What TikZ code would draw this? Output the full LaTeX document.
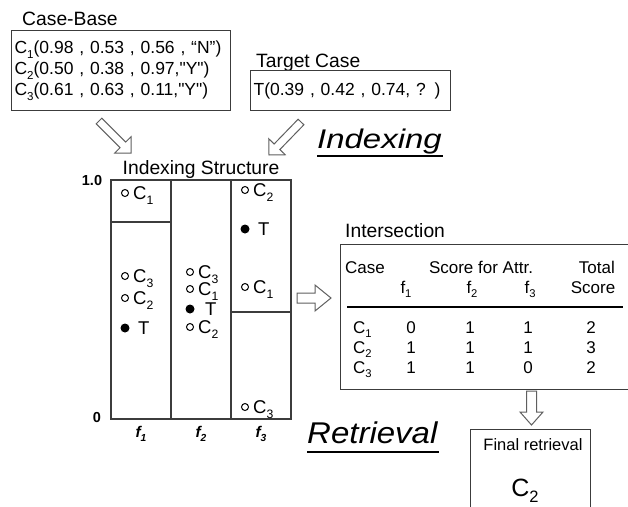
\documentclass[tikz,border=0pt]{standalone}
\usepackage{fontspec}
\setmainfont{Liberation Sans}[Ligatures=TeXOff]
\usetikzlibrary{calc}
\definecolor{ln}{RGB}{60,60,60}
\definecolor{ar}{RGB}{95,95,95}
\newcommand{\fs}[2][]{\fontsize{#2}{#2}\selectfont}
\newcommand{\lsub}[1]{\raisebox{-0.27em}{\scalebox{0.66}{#1}}}
\newcommand{\hollowarr}[5]{%
  \coordinate (hb) at ($(#2)!#3!(#1)$);
  \draw[harr] ($(#1)!#4!90:(#2)$) -- ($(hb)!#4!-90:(#1)$) -- ($(hb)!#5!-90:(#1)$) -- (#2)
    -- ($(hb)!#5!90:(#1)$) -- ($(hb)!#4!90:(#1)$) -- ($(#1)!#4!-90:(#2)$) -- cycle;}
\begin{document}
\begin{tikzpicture}[x=1pt,y=-1pt,
  lbl/.style={inner sep=0pt, font=\fs{19.3}},
  tb/.style={inner sep=0pt, font=\fs{17}},
  box/.style={draw=ln, line width=1.2pt},
  grd/.style={draw=ln, line width=1.4pt},
  pt/.style={circle, draw=black, line width=1pt, inner sep=0pt, minimum size=7pt},
  tpt/.style={circle, fill=black, inner sep=0pt, minimum size=9pt},
  ptl/.style={inner sep=0pt, font=\fs{18.5}, anchor=base west},
  harr/.style={draw=ar, line width=1pt, fill=white},
  big/.style={inner sep=0pt, anchor=base west, font=\fs{27}\itshape},
  axl/.style={inner sep=0pt, anchor=base, font=\fs{14.5}\bfseries},
  fl/.style={inner sep=0pt, anchor=base, font=\fs{15.5}\bfseries\itshape}
]
\useasboundingbox (0,0) rectangle (628,506);

% Case-Base
\node[lbl, anchor=base west] (cbl) at (22,25) {Case-Base};
\node[box, anchor=north west, text width=213pt, inner xsep=3pt, inner ysep=0pt,
      minimum height=80pt, align=left, font=\fontsize{17.5}{21}\selectfont] (cb) at (11,30)
  {C\lsub{1}(0.98 , 0.53 , 0.56 , “N”)\\C\lsub{2}(0.50 , 0.38 , 0.97,"Y")\\C\lsub{3}(0.61 , 0.63 , 0.11,"Y")};

% Target Case
\node[lbl, anchor=base west] (tcl) at (256,67) {Target Case};
\node[box, anchor=north west, text width=194pt, inner xsep=3pt, inner ysep=0pt,
      minimum height=40pt, align=left, font=\fs{17.5}] (tc) at (250,70) {T(0.39 , 0.42 , 0.74, ? )};

% indexing arrows
\coordinate (a1t) at (99,121); \coordinate (a1h) at (131,153);
\coordinate (a2t) at (301,122); \coordinate (a2h) at (269,155);
\hollowarr{a1t}{a1h}{11.5pt}{4pt}{11.5pt}
\hollowarr{a2t}{a2h}{11.5pt}{4pt}{11.5pt}

% Indexing label
\node[big] (idx) at (317,148) {\scalebox{1.22}[1]{Indexing}};
\draw[line width=1.8pt] (317,156) -- (443,156);

% Indexing structure
\node[lbl, anchor=base] (iss) at (201,174) {Indexing Structure};
\node[axl] (one) at (92,185) {1.0};
\node[axl] (zero) at (97,422) {0};
\draw[grd] (111,180) rectangle (291,419);
\draw[grd] (171,180) -- (171,419);
\draw[grd] (231,180) -- (231,419);
\draw[grd] (111,222) -- (171,222);
\draw[grd] (231,312) -- (291,312);
\node[fl] (f1) at (141,437) {f\lsub{1}};
\node[fl] (f2) at (201,437) {f\lsub{2}};
\node[fl] (f3) at (261,437) {f\lsub{3}};

% column 1
\node[pt] (p11) at (125,193) {}; \node[ptl] (l11) at ($(p11)+(8,6.5)$) {C\lsub{1}};
\node[pt] (p13) at (125,276) {}; \node[ptl] (l13) at ($(p13)+(8,6.5)$) {C\lsub{3}};
\node[pt] (p12) at (125,298) {}; \node[ptl] (l12) at ($(p12)+(8,6.5)$) {C\lsub{2}};
\node[tpt] (p1t) at (125,328) {}; \node[ptl] (l1t) at ($(p1t)+(13,6.5)$) {T};
% column 2
\node[pt] (p23) at (190,272) {}; \node[ptl] (l23) at ($(p23)+(8,6.5)$) {C\lsub{3}};
\node[pt] (p21) at (190,289) {}; \node[ptl] (l21) at ($(p21)+(8,6.5)$) {C\lsub{1}};
\node[tpt] (p2t) at (190,309) {}; \node[ptl] (l2t) at ($(p2t)+(15,6.5)$) {T};
\node[pt] (p22) at (190,327) {}; \node[ptl] (l22) at ($(p22)+(8,6.5)$) {C\lsub{2}};
% column 3
\node[pt] (p32) at (245,190) {}; \node[ptl] (l32) at ($(p32)+(8,6.5)$) {C\lsub{2}};
\node[tpt] (p3t) at (245,229) {}; \node[ptl] (l3t) at ($(p3t)+(13,6.5)$) {T};
\node[pt] (p31) at (245,287) {}; \node[ptl] (l31) at ($(p31)+(8,6.5)$) {C\lsub{1}};
\node[pt] (p33) at (245,407) {}; \node[ptl] (l33) at ($(p33)+(8,6.5)$) {C\lsub{3}};

% arrow to intersection
\coordinate (a3t) at (297,298); \coordinate (a3h) at (331,298);
\hollowarr{a3t}{a3h}{16pt}{5pt}{13pt}

% Intersection
\node[lbl, anchor=base west] (isl) at (345,237) {Intersection};
\node[box, anchor=north west, minimum width=300pt, minimum height=145pt, inner sep=0pt] (isx) at (340,244) {};
\node[tb, anchor=base west] (hcase) at (345,273) {Case};
\node[tb, anchor=base] (hscore) at (481,273) {Score for Attr.};
\node[tb, anchor=base east] (htotal) at (615,273) {Total};
\node[tb, anchor=base] (hf1) at (406,293) {f\lsub{1}};
\node[tb, anchor=base] (hf2) at (472,293) {f\lsub{2}};
\node[tb, anchor=base] (hf3) at (530,293) {f\lsub{3}};
\node[tb, anchor=base] (hts) at (593,293) {Score};
\draw[line width=1.2pt] (347,307) -- (623,307);
\foreach \r/\y/\a/\b/\c/\t in {1/333/0/1/1/2, 2/353/1/1/1/3, 3/373/1/1/0/2}{
  \node[tb, anchor=base west] (rc\r) at (353,\y) {C\lsub{\r}};
  \node[tb, anchor=base] (ra\r) at (411,\y) {\a};
  \node[tb, anchor=base] (rb\r) at (470,\y) {\b};
  \node[tb, anchor=base] (rd\r) at (528,\y) {\c};
  \node[tb, anchor=base] (rt\r) at (591,\y) {\t};
}

% arrow down
\coordinate (a4t) at (531.5,391); \coordinate (a4h) at (531.5,425);
\hollowarr{a4t}{a4h}{13pt}{5pt}{11.5pt}

% Retrieval
\node[big, font=\fs{30}\itshape] (ret) at (307,443) {\scalebox{1.1}[1]{Retrieval}};
\draw[line width=1.8pt] (307,452) -- (439,452);

% Final retrieval
\node[box, anchor=north west, minimum width=120pt, minimum height=100pt, inner sep=0pt] (fin) at (470,429) {};
\node[inner sep=0pt, anchor=base, font=\fs{16.5}] (finl) at (533,450) {Final retrieval};
\node[inner sep=0pt, anchor=base, font=\fs{25}] (finc) at (525,496) {C\lsub{2}};
\end{tikzpicture}
\end{document}
